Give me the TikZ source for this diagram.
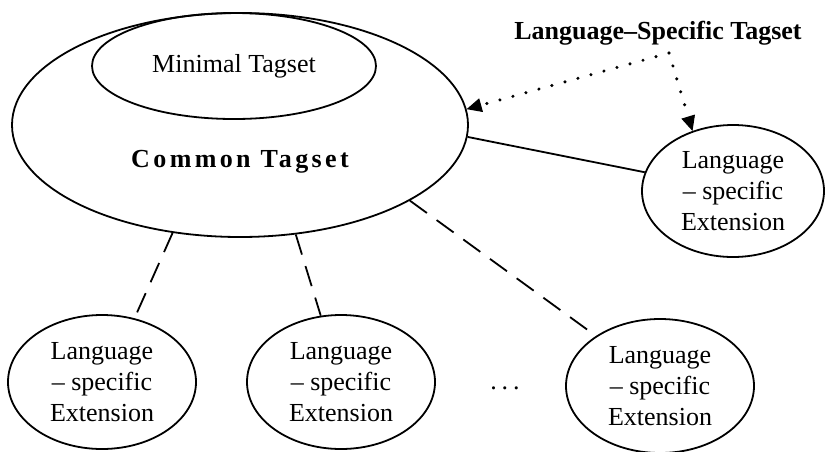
\documentclass[tikz,border=0pt]{standalone}
\usepackage{fontspec}
\setmainfont{Liberation Serif}
\usetikzlibrary{shapes.geometric,arrows.meta}
\begin{document}
\begin{tikzpicture}[x=1pt,y=-1pt,
  txt/.style={font=\fontsize{26}{31}\selectfont},
  ell/.style={draw, ellipse, line width=1.8pt, inner sep=0pt, align=center, txt},
  ext/.style={ell, minimum width=188pt, minimum height=134pt},
  solidline/.style={line width=1.8pt},
  dashline/.style={line width=1.8pt, dash pattern=on 21pt off 12pt},
  dotline/.style={line width=3.4pt, line cap=round, dash pattern=on 0pt off 13.5pt,
    -{Triangle[line width=1pt, length=15pt, width=14pt]}},
]
\useasboundingbox (0,0) rectangle (827,451);
% main ellipses
\node[ell, minimum width=456pt, minimum height=224pt] (common) at (240,125) {};
\node[ell, minimum width=284pt, minimum height=106pt] (minimal) at (234,66) {Minimal Tagset};
\node[txt, font=\fontsize{26}{31}\selectfont\bfseries\addfontfeature{LetterSpace=13}] (commonlbl) at (240,162) {Common Tagset};
% extensions
\node[ell, minimum width=182pt, minimum height=132pt] (right) at (733,191) {Language\\– specific\\Extension};
\node[ext] (b1) at (102,382) {Language\\– specific\\Extension};
\node[ext] (b2) at (341,382) {Language\\– specific\\Extension};
\node[ext] (b3) at (660,386) {Language\\– specific\\Extension};
\node[txt] (dots) at (505,388) {.\hspace{5pt}.\hspace{5pt}.};
% title
\node[txt, font=\fontsize{26}{31}\selectfont\bfseries] (title) at (658,33) {Language–Specific Tagset};
\coordinate (src) at (669,53);
% connectors
\draw[solidline] (common.-3.3) -- (right.168.8);
\draw[dashline] (common.-122.2) -- (b1.63.1);
\draw[dashline] (common.-63.9) -- (b2.107.9);
\draw[dashline] (common.-24.8) -- (b3.142.9);
\draw[dotline] (src) -- (common.4.6);
\draw[dotline] (src) -- (right.124.3);
\end{tikzpicture}
\end{document}
